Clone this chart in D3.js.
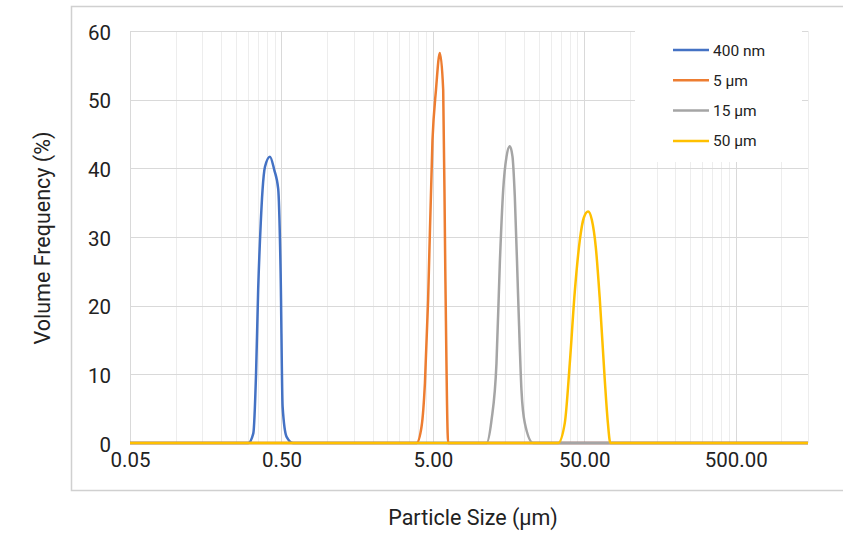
<!DOCTYPE html>
<html>
<head>
<meta charset="utf-8">
<script src="https://cdn.jsdelivr.net/npm/d3@7"></script>
<style>
    body { margin: 0; background: #fff; }
    text { font-family: Roboto, "Liberation Sans", sans-serif; fill: #222; }
</style>
</head>
<body>
<div id="chart"></div>
<script>
// Series names and colours (Excel defaults)
const seriesNames = ["400 nm", "5 µm", "15 µm", "50 µm"];
const seriesColors = ["#4472C4", "#ED7D31", "#A5A5A5", "#FFC000"];

// Particle sizes (µm) and volume frequency (%)
const size400nm = [0.05, 0.302, 0.326, 0.340, 0.351, 0.365, 0.375, 0.389, 0.420, 0.448, 0.476, 0.494, 0.509, 0.541, 0.598, 1500];
const vol400nm  = [0,    0,     1.4,   10.2,  22.3,  32,    36.8,  40.2,  41.7,  39.8,  37.0,  24.7,  5.3,   0.9,   0,     0];

const size5um = [0.05, 3.90, 4.21, 4.43, 4.65, 4.97, 5.24, 5.56, 5.85, 6.04, 6.31, 1500];
const vol5um  = [0,    0,    2.4,  8.7,  20.8, 44.1, 51.4, 56.8, 51.4, 25,   0,    0];

const size15um = [0.05, 11.30, 12.19, 13.15, 13.84, 14.56, 15.32, 16.11, 16.78, 17.38, 18.28, 19.23, 20.23, 22.96, 1500];
const vol15um  = [0,    0,     3.3,   11.6,  26.2,  36.8,  41.7,  43.2,  41.7,  35.9,  21.3,  7.7,   2.9,   0,     0];

const size50um = [0.05, 33.57, 37.15, 40.09, 43.25, 46.67, 49.62, 52.97, 56.05, 59.55, 63.25, 68.24, 71.5, 74.3, 1500];
const vol50um  = [0,    0,     2.9,   11.6,  22,    29.5,  32.8,  33.7,  32.5,  28.5,  21,    9.2,   3,    0,    0];

// Axis ticks
const xTicks = [0.05, 0.5, 5, 50, 500];
const yTicks = [0, 10, 20, 30, 40, 50, 60];

const sizes = [size400nm, size5um, size15um, size50um];
const vols = [vol400nm, vol5um, vol15um, vol50um];
const series = seriesNames.map((name, i) => ({
    name: name,
    color: seriesColors[i],
    values: sizes[i].map((s, j) => ({ size: s, vol: vols[i][j] }))
}));

const width = 843, height = 533;
const plot = { left: 130, right: 808, top: 31, bottom: 443 };

const svg = d3.select("#chart")
    .append("svg")
    .attr("width", width)
    .attr("height", height);

// Outer chart border
svg.append("rect")
    .attr("x", 71.5)
    .attr("y", 6.5)
    .attr("width", 800)
    .attr("height", 484)
    .attr("fill", "none")
    .attr("stroke", "#d0d0d0")
    .attr("stroke-width", 1.5);

const x = d3.scaleLog()
    .domain([0.05, 1500])
    .range([plot.left, plot.right]);

const y = d3.scaleLinear()
    .domain([0, 60])
    .range([plot.bottom, plot.top]);

// Minor log gridlines: multiples of each major tick
const minorTicks = xTicks.flatMap(t => d3.range(2, 10).map(k => t * k))
    .filter(v => v <= 1500 * 1.0001);

const grid = svg.append("g");

grid.selectAll(".minor")
    .data(minorTicks)
    .join("line")
    .attr("class", "minor")
    .attr("x1", d => Math.round(x(d)) + 0.5)
    .attr("x2", d => Math.round(x(d)) + 0.5)
    .attr("y1", plot.top)
    .attr("y2", plot.bottom)
    .attr("stroke", "#ededed");

grid.selectAll(".major")
    .data(xTicks)
    .join("line")
    .attr("class", "major")
    .attr("x1", d => Math.round(x(d)) + 0.5)
    .attr("x2", d => Math.round(x(d)) + 0.5)
    .attr("y1", plot.top)
    .attr("y2", plot.bottom)
    .attr("stroke", "#d9d9d9");

grid.selectAll(".hgrid")
    .data(yTicks)
    .join("line")
    .attr("class", "hgrid")
    .attr("x1", plot.left)
    .attr("x2", plot.right)
    .attr("y1", d => Math.round(y(d)) + 0.5)
    .attr("y2", d => Math.round(y(d)) + 0.5)
    .attr("stroke", "#d9d9d9");

// Axes (labels only, Excel style)
svg.append("g")
    .attr("transform", `translate(0,${plot.bottom})`)
    .call(d3.axisBottom(x).tickValues(xTicks).tickFormat(d3.format(".2f")).tickSize(0).tickPadding(9))
    .call(g => g.select(".domain").remove())
    .call(g => g.selectAll("text").style("font-size", "20.5px").attr("fill", "#222"));

svg.append("g")
    .attr("transform", `translate(${plot.left},0)`)
    .call(d3.axisLeft(y).tickValues(yTicks).tickSize(0).tickPadding(19))
    .call(g => g.select(".domain").remove())
    .call(g => g.selectAll("text").style("font-size", "20.5px").attr("dy", "0.4em").attr("fill", "#222"));

// Axis titles
svg.append("text")
    .attr("x", 473)
    .attr("y", 525)
    .attr("text-anchor", "middle")
    .style("font-size", "21.5px")
    .text("Particle Size (µm)");

svg.append("text")
    .attr("transform", "translate(50,238) rotate(-90)")
    .attr("text-anchor", "middle")
    .style("font-size", "21.5px")
    .text("Volume Frequency (%)");

// Legend background hides the gridlines behind it
svg.append("rect")
    .attr("x", 635)
    .attr("y", 24)
    .attr("width", 167)
    .attr("height", 138)
    .attr("fill", "#fff");

// Lines
const line = d3.line()
    .x(d => x(d.size))
    .y(d => y(d.vol))
    .curve(d3.curveMonotoneX);

svg.append("g")
    .selectAll("path")
    .data(series)
    .join("path")
    .attr("d", d => line(d.values))
    .attr("fill", "none")
    .attr("stroke", d => d.color)
    .attr("stroke-width", 2.5)
    .attr("stroke-linejoin", "round");

// Legend
const legend = svg.append("g")
    .selectAll("g")
    .data(series)
    .join("g")
    .attr("transform", (d, i) => `translate(673,${50 + i * 30.3})`);

legend.append("line")
    .attr("x1", 0)
    .attr("x2", 36)
    .attr("stroke", d => d.color)
    .attr("stroke-width", 2.5);

legend.append("text")
    .attr("x", 40)
    .attr("dy", "0.36em")
    .style("font-size", "15.5px")
    .text(d => d.name);
</script>
</body>
</html>
